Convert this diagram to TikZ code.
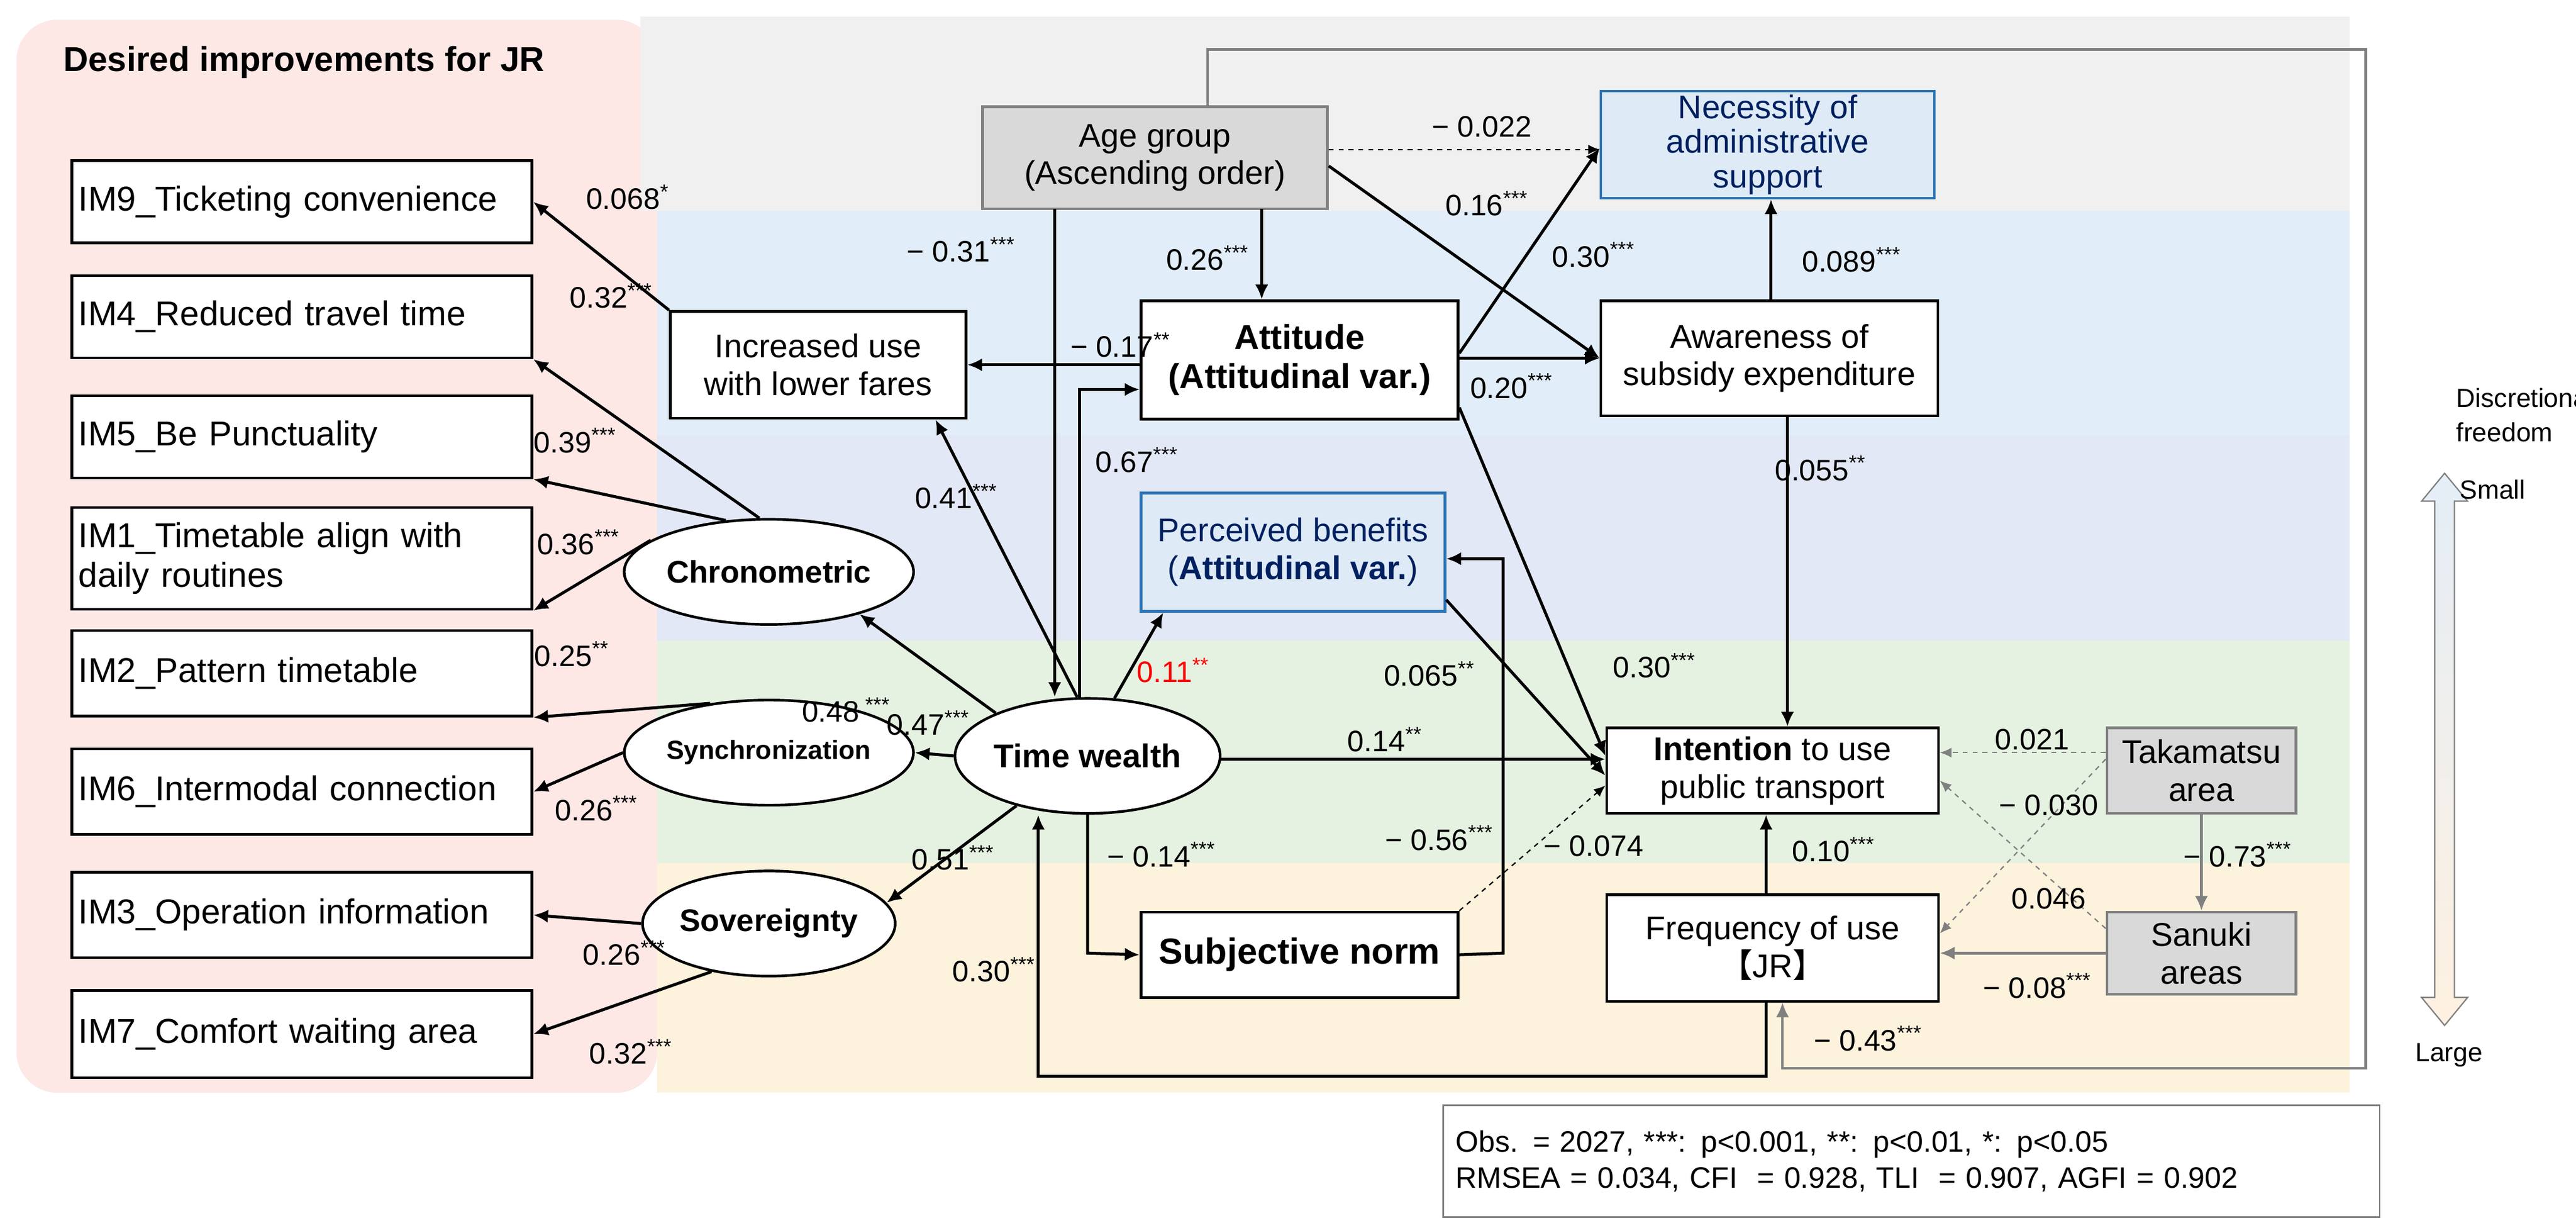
\documentclass[tikz,border=0pt]{standalone}
\usepackage{fontspec}
\setmainfont{Liberation Sans}
\newfontfamily\cjk{Noto Sans CJK JP}
\usetikzlibrary{arrows.meta,calc,shapes.geometric}
\newcommand{\st}[1]{\textsuperscript{#1}}
\definecolor{pinkbg}{RGB}{253,232,230}
\definecolor{graybg}{RGB}{240,240,240}
\definecolor{bluebg}{RGB}{225,237,248}
\definecolor{purbg}{RGB}{226,232,245}
\definecolor{greenbg}{RGB}{230,242,225}
\definecolor{yelbg}{RGB}{253,242,220}
\definecolor{boxgray}{RGB}{217,217,217}
\definecolor{lblue}{RGB}{222,235,247}
\definecolor{bborder}{RGB}{46,117,182}
\definecolor{dblue}{RGB}{0,32,96}
\begin{document}
\begin{tikzpicture}[x=1pt,y=-1pt,
  every node/.style={font=\fontsize{20}{23}\selectfont},
  box/.style={draw,line width=1.6pt,fill=white,align=center,inner sep=0},
  ell/.style={draw,line width=1.6pt,fill=white,ellipse,inner sep=0,font=\fontsize{19}{22}\selectfont\bfseries},
  ar/.style={-{Latex[length=9pt,width=8pt]},line width=1.8pt},
  gar/.style={-{Latex[length=9pt,width=8pt]},line width=1.6pt,gray},
  dar/.style={-{Latex[length=7pt,width=6pt]},line width=0.8pt,dashed},
  gdar/.style={-{Latex[length=7pt,width=6pt]},line width=0.8pt,dashed,gray},
  lab/.style={font=\fontsize{18}{21}\selectfont,inner sep=1pt}]
\useasboundingbox (0,0) rectangle (1568,747);
\fill[white] (0,0) rectangle (1568,747);
% backgrounds
\fill[pinkbg,rounded corners=25pt] (10,12) rectangle (400,665);
\fill[graybg] (390,10) rectangle (1430,128);
\fill[bluebg] (400,128) rectangle (1430,265);
\fill[purbg] (400,265) rectangle (1430,390);
\fill[greenbg] (400,390) rectangle (1430,525);
\fill[yelbg] (400,525) rectangle (1430,665);
\node[anchor=west,font=\fontsize{21}{24}\selectfont\bfseries] (title) at (35,38) {Desired improvements for JR};
% IM boxes
\foreach \n/\t/\ya/\yb in {im9/IM9\_Ticketing convenience/97/147, im4/IM4\_Reduced travel time/167/217, im5/IM5\_Be Punctuality/240/290, im2/IM2\_Pattern timetable/383/435, im6/IM6\_Intermodal connection/455/507, im3/IM3\_Operation information/530/582, im7/IM7\_Comfort waiting area/602/655}{
  \node[box,minimum width=280pt,minimum height={\yb-\ya},anchor=north west,text width=272pt,align=left,font=\fontsize{21}{24}\selectfont] (\n) at (43,\ya) {\t};}
\node[box,minimum width=280pt,minimum height=62pt,anchor=north west,text width=272pt,align=left,font=\fontsize{21}{24}\selectfont] (im1) at (43,308) {IM1\_Timetable align with\\daily routines};
% ellipses
\node[ell,minimum width=128pt,minimum height=64pt] (chr) at (468,348) {Chronometric};
\node[ell,minimum width=128pt,minimum height=64pt,font=\fontsize{16}{18}\selectfont\bfseries] (syn) at (468,458) {Synchronization};
\node[ell,minimum width=128pt,minimum height=64pt] (sov) at (468,562) {Sovereignty};
\node[ell,minimum width=140pt,minimum height=70pt,font=\fontsize{20}{23}\selectfont\bfseries] (tw) at (662,460) {Time wealth};
% boxes
\node[box,minimum width=180pt,minimum height=65pt] (inc) at (498,222) {Increased use\\with lower fares};
\node[box,minimum width=193pt,minimum height=72pt,font=\fontsize{21}{24}\selectfont\bfseries] (att) at (791,219) {Attitude\\(Attitudinal var.)};
\node[box,fill=boxgray,draw=gray,minimum width=210pt,minimum height=62pt] (age) at (703,96) {Age group\\(Ascending order)};
\node[box,fill=lblue,draw=bborder,text=dblue,minimum width=203pt,minimum height=65pt,font=\fontsize{20}{21}\selectfont] (nec) at (1076,88) {Necessity of\\administrative\\support};
\node[box,minimum width=205pt,minimum height=70pt] (awa) at (1077,218) {Awareness of\\subsidy expenditure};
\node[box,fill=lblue,draw=bborder,text=dblue,minimum width=185pt,minimum height=72pt] (per) at (787,336) {Perceived benefits\\(\textbf{Attitudinal var.})};
\node[box,minimum width=202pt,minimum height=52pt] (int) at (1079,469) {\textbf{Intention} to use\\public transport};
\node[box,minimum width=193pt,minimum height=52pt,font=\fontsize{22}{25}\selectfont\bfseries] (sn) at (791,581) {Subjective norm};
\node[box,minimum width=202pt,minimum height=65pt] (fre) at (1079,577) {Frequency of use\\{\cjk 【}JR{\cjk 】}};
\node[box,fill=boxgray,draw=gray,minimum width=115pt,minimum height=52pt] (tak) at (1340,469) {Takamatsu\\area};
\node[box,fill=boxgray,draw=gray,minimum width=115pt,minimum height=50pt] (san) at (1340,580) {Sanuki\\areas};
% right arrow
\shade[top color=lblue!80!bborder!40,bottom color=yelbg!70!orange!30,draw=gray,line width=0.8pt]
 (1488,288) -- (1502,305) -- (1494,305) -- (1494,607) -- (1502,607) -- (1488,624) -- (1474,607) -- (1482,607) -- (1482,305) -- (1474,305) -- cycle;
\node[align=left,anchor=north west,inner sep=0,font=\fontsize{16}{21}\selectfont] (disc) at (1495,236) {Discretionary\\freedom};
\node[anchor=west,inner sep=0,font=\fontsize{16}{19}\selectfont] (small) at (1497,298) {Small};
\node[anchor=west,inner sep=0,font=\fontsize{16}{19}\selectfont] (large) at (1470,642) {Large};
% stats
\node[draw=gray,line width=1pt,fill=white,align=left,minimum width=570pt,minimum height=68pt,anchor=north west,text width=555pt,inner sep=6pt,font=\fontsize{18}{22}\selectfont] (stats) at (878,672) {Obs. = 2027, ***: p<0.001, **: p<0.01, *: p<0.05\\RMSEA = 0.034, CFI\ \ = 0.928, TLI\ \ = 0.907, AGFI = 0.902};
% connectors
\draw[ar] (inc.north west) -- (im9.east);
\draw[ar] (chr.100) -- (im4.south east);
\draw[ar] (chr.130) -- (im5.south east);
\draw[ar] (chr.165) -- (im1.south east);
\draw[ar] (syn.140) -- (im2.south east);
\draw[ar] (syn.180) -- (im6.east);
\draw[ar] (sov.180) -- (im3.east);
\draw[ar] (sov.220) -- (im7.east);
\draw[ar] (tw.155) -- (chr.-25);
\draw[ar] (tw.180) -- (syn.0);
\draw[ar] (tw.215) -- (sov.10);
\draw[ar] (tw.100) -- (inc.-25);
\draw[ar] (642,127) -- (tw.north -| 642,0);
\draw[ar] (768,127) -- (att.north -| 768,0);
\draw[dar] (age.east) ++(0,-5) -- (nec.west |- 0,91);
\draw[ar] (age.east) ++(0,5) -- (awa.west);
\draw[ar] (att.west |- 0,222) -- (inc.east |- 0,222);
\draw[ar] (657,426) -- (657,237) -- (att.west |- 0,237);
\draw[ar] (tw.65) -- (per.205);
\draw[ar] (att.east |- 0,215) -- (nec.west |- 0,90);
\draw[ar] (att.east |- 0,218) -- (awa.west |- 0,218);
\draw[ar] (att.east |- 0,248) -- (int.west |- 0,460);
\draw[ar] (awa.north -| 1078,0) -- (nec.south -| 1078,0);
\draw[ar] (awa.south -| 1088,0) -- (int.north -| 1088,0);
\draw[ar] (per.east |- 0,365) -- (int.west |- 0,472);
\draw[ar] (tw.east |- 0,462) -- (int.west |- 0,462);
\draw[ar] (662,495) -- (662,580) -- (sn.west);
\draw[ar] (sn.east) -- (915,580) -- (915,340) -- (per.east |- 0,340);
\draw[dar] (sn.north east) -- (int.west |- 0,478);
\draw[ar] (fre.north -| 1075,0) -- (int.south -| 1075,0);
\draw[ar] (fre.south -| 1075,0) -- (1075,655) -- (632,655) -- (tw.south -| 632,0);
\draw[gdar] (tak.west |- 0,458) -- (int.east |- 0,458);
\draw[gdar] (tak.west |- 0,462) -- (fre.east |- 0,568);
\draw[gdar] (san.west |- 0,565) -- (int.east |- 0,475);
\draw[gar] (san.west |- 0,580) -- (fre.east |- 0,580);
\draw[gar] (tak.south) -- (san.north);
\draw[gar] (735,65) -- (735,30) -- (1440,30) -- (1440,650) -- (1085,650) -- (1085,610);
% labels
\foreach \nm/\x/\y/\t in {
 l1/382/120/{0.068\st{*}}, l2/372/180/{0.32\st{***}}, l3/350/268/{0.39\st{***}},
 l4/352/330/{0.36\st{***}}, l5/348/398/{0.25\st{**}}, l6/363/492/{0.26\st{***}},
 l7/380/580/{0.26\st{***}}, l8/384/640/{0.32\st{***}}, l9/515/432/{0.48\st{ ***}},
 l10/565/440/{0.47\st{***}}, l11/580/522/{0.51\st{***}}, l12/582/302/{0.41\st{***}},
 l13/585/152/{− 0.31\st{***}}, l14/735/157/{0.26\st{***}}, l15/902/77/{− 0.022},
 l16/905/124/{0.16\st{***}}, l17/682/210/{− 0.17\st{**}}, l18/692/280/{0.67\st{***}},
 l20/970/155/{0.30\st{***}}, l21/920/235/{0.20\st{***}},
 l22/1007/405/{0.30\st{***}}, l23/1127/158/{0.089\st{***}}, l24/1108/285/{0.055\st{**}},
 l25/870/410/{0.065\st{**}}, l26/843/450/{0.14\st{**}}, l27/707/520/{− 0.14\st{***}},
 l28/876/510/{− 0.56\st{***}}, l29/970/515/{− 0.074}, l30/1116/517/{0.10\st{***}},
 l31/605/590/{0.30\st{***}}, l32/1237/450/{0.021}, l33/1247/490/{− 0.030},
 l34/1247/547/{0.046}, l35/1240/600/{− 0.08\st{***}}, l36/1362/520/{− 0.73\st{***}},
 l37/1137/632/{− 0.43\st{***}}}
 \node[lab] (\nm) at (\x,\y) {\t};
\node[lab,text=red] (l19) at (714,408) {0.11\st{**}};
\end{tikzpicture}
\end{document}
